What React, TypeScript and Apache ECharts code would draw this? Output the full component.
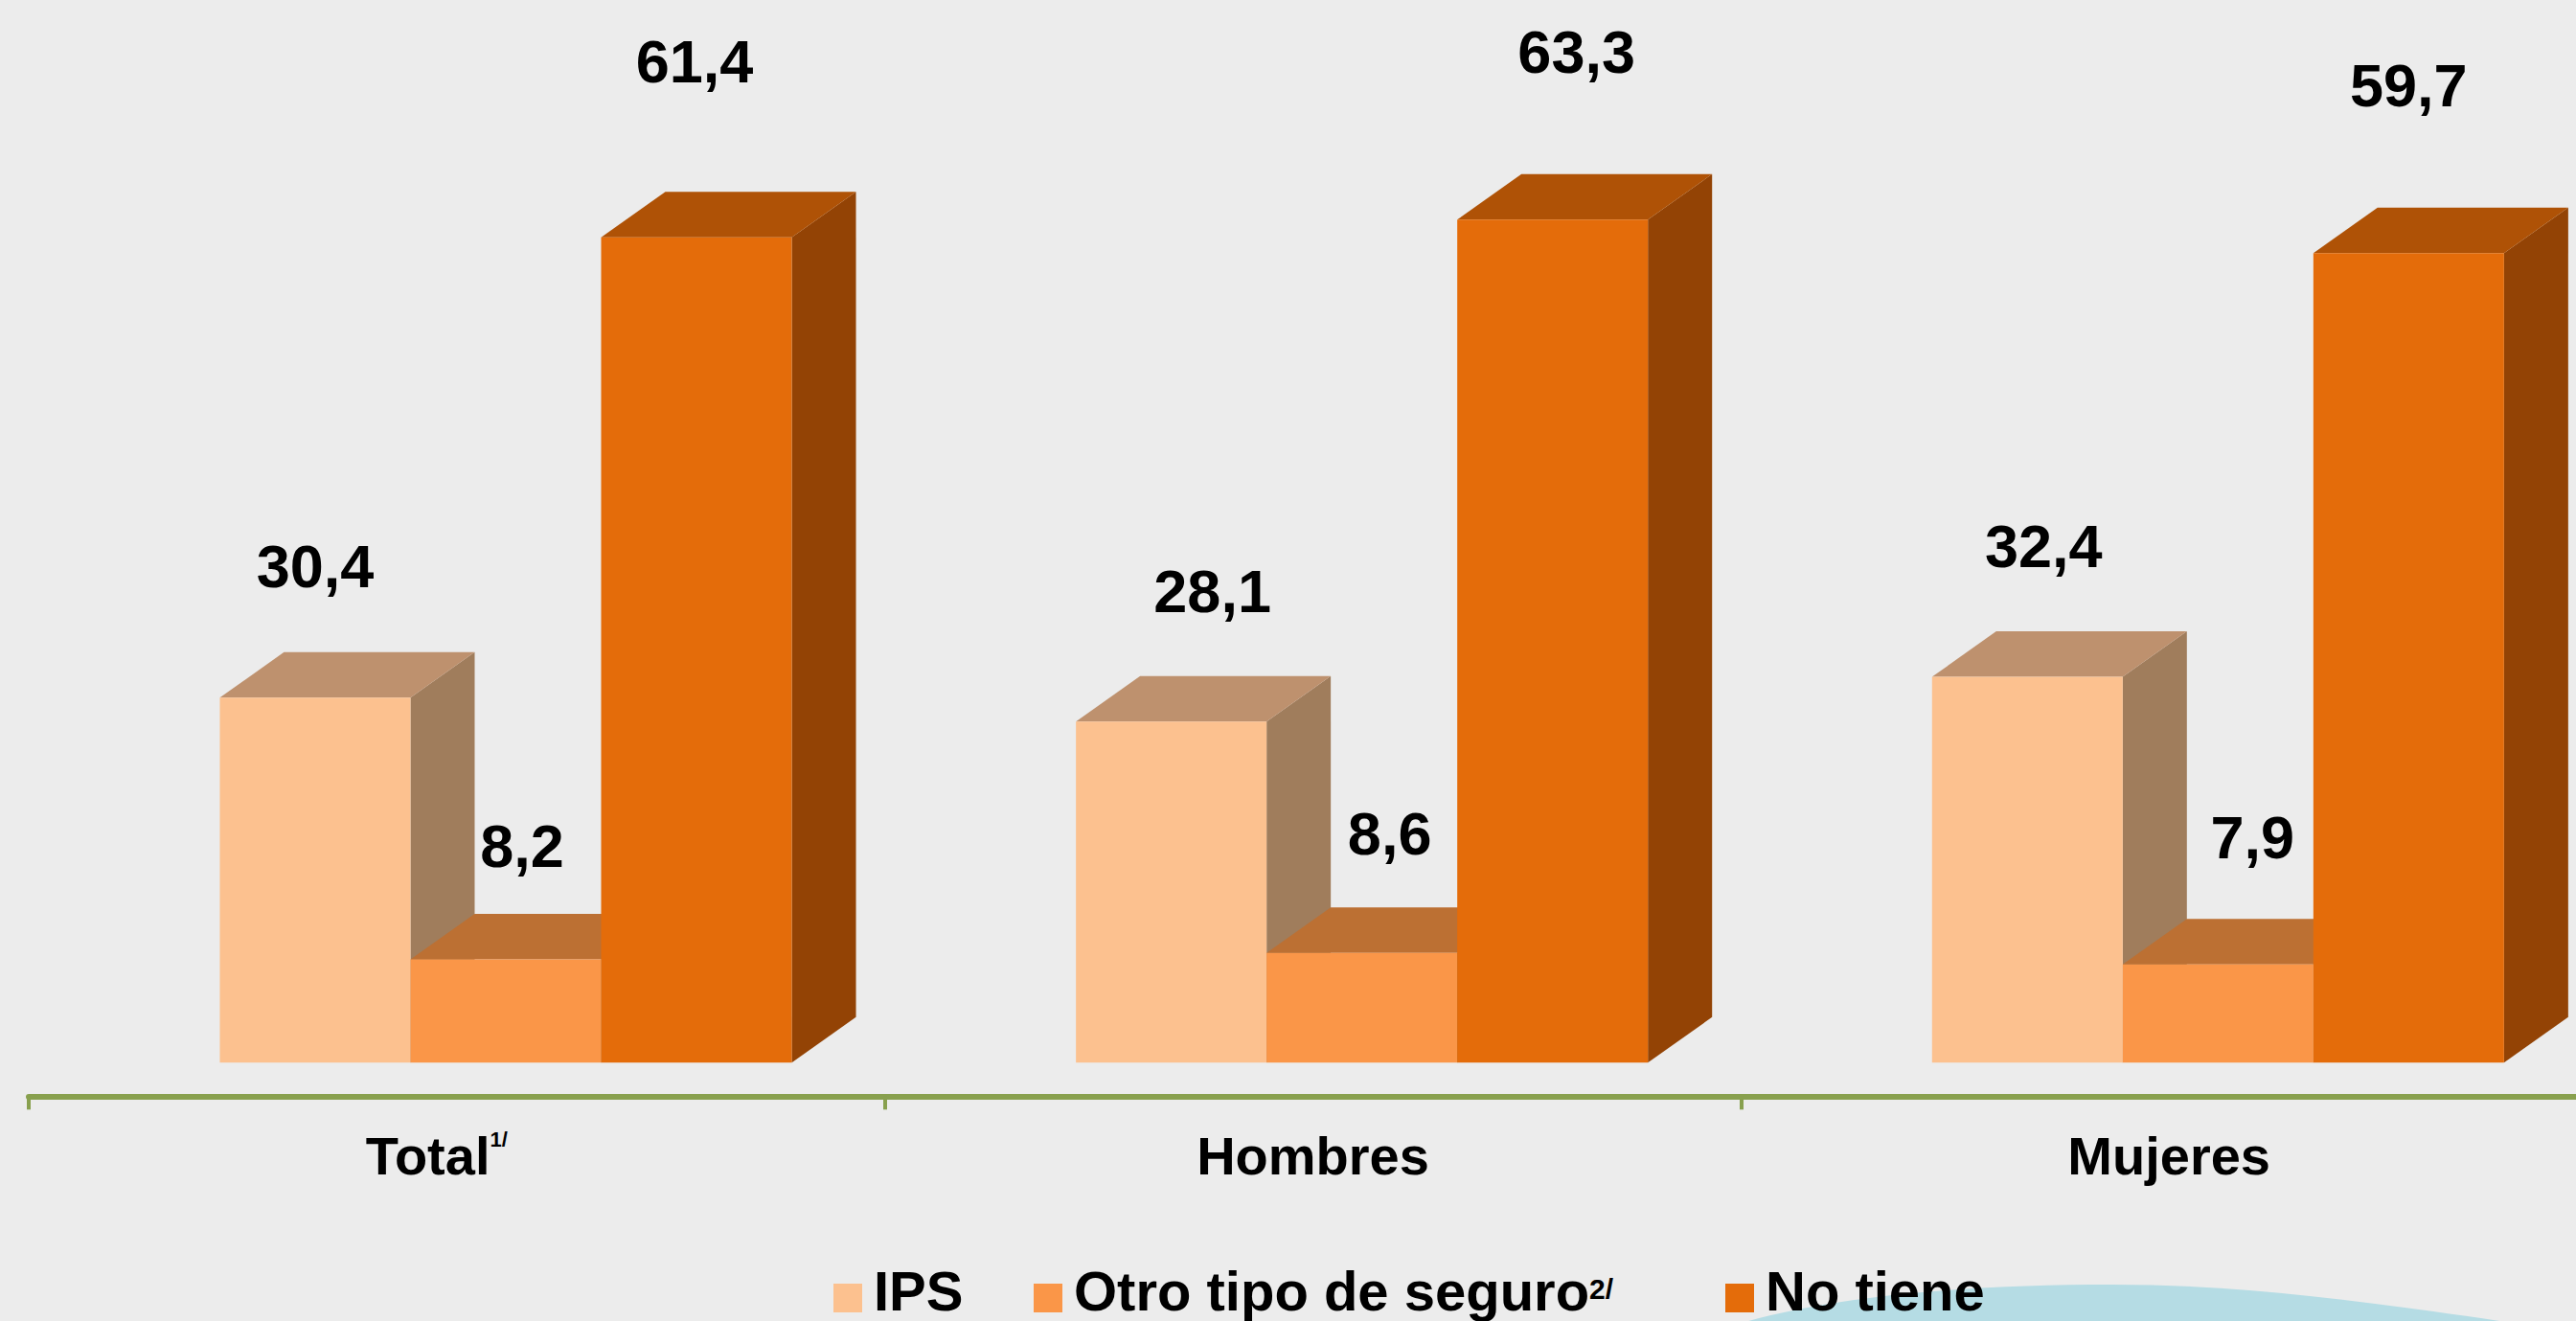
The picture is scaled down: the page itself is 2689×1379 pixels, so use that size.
import React, { useEffect, useRef } from "react";
import * as echarts from "echarts";

const categories = ["Total", "Hombres", "Mujeres"];
const ipsValues = [30.4, 28.1, 32.4];
const otroValues = [8.2, 8.6, 7.9];
const noTieneValues = [61.4, 63.3, 59.7];

const FONT = '"Liberation Sans", Arial, sans-serif';
const W = 2689;
const H = 1379;

// Hand-placed value label offsets from each bar's front-top centre.
const nudgeIps = [[0, -137], [43, -136], [17, -137]];
const nudgeOtro = [[17, -119], [29, -125], [36, -133]];
const nudgeNo = [[-2, -184], [25, -175], [0, -175]];

const faces = {
  ips: { front: "#FCC18F", top: "#BE916E", side: "#A07D5C" },
  otro: { front: "#FA9648", top: "#BC7033", side: "#9A5F2F" },
  no: { front: "#E46C0A", top: "#AF5206", side: "#934305" },
};

echarts.graphic.registerShape(
  "wave",
  echarts.graphic.extendPath(
    "M1805 1385 C1900 1355 2040 1341 2205 1341 C2350 1341 2480 1360 2650 1385 Z",
    {}
  )
);

const DEPTH_X = 67;
const DEPTH_Y = 47.5;

function makeRender(slot: number, c: any, nudges: number[][], axisMin: number) {
  return (_p: any, api: any) => {
    const cat = api.value(0);
    const val = api.value(1);
    const band = api.size([1, 0])[0];
    const [cx, top] = api.coord([cat, val]);
    const base = api.coord([cat, axisMin])[1];
    const bw = band * 0.2227;
    const x0 = cx - band * 0.2768 + slot * bw;
    const x1 = x0 + bw;
    const n = nudges[cat];
    return {
      type: "group",
      children: [
        {
          type: "polygon",
          shape: { points: [[x1, top], [x1 + DEPTH_X, top - DEPTH_Y], [x1 + DEPTH_X, base - DEPTH_Y], [x1, base]] },
          style: { fill: c.side },
        },
        {
          type: "polygon",
          shape: { points: [[x0, top], [x0 + DEPTH_X, top - DEPTH_Y], [x1 + DEPTH_X, top - DEPTH_Y], [x1, top]] },
          style: { fill: c.top },
        },
        { type: "rect", shape: { x: x0, y: top, width: bw, height: base - top }, style: { fill: c.front } },
        {
          type: "text",
          z2: 100,
          style: {
            x: (x0 + x1) / 2 + n[0],
            y: top + n[1],
            text: val.toFixed(1).replace(".", ","),
            fill: "#000",
            fontFamily: FONT,
            fontWeight: "bold",
            fontSize: 63,
            align: "center",
            verticalAlign: "middle",
          },
        },
      ],
    };
  };
}

const axes = [
  { min: -4.7, max: 97.5 },
  { min: 1.9, max: 66.8 },
  { min: -27.42, max: 86.94 },
];

const textBold = { fontFamily: FONT, fontWeight: "bold", color: "#000" };

const legendBase = {
  orient: "horizontal",
  top: 1318,
  padding: 0,
  itemWidth: 30,
  itemHeight: 30,
  itemGap: 0,
  icon: "rect",
  selectedMode: false,
  z: 20,
  textStyle: {
    ...textBold,
    fontSize: 58,
    rich: {
      a: { ...textBold, fontSize: 58, lineHeight: 50, padding: [0, 0, 16, 7] },
      s: { ...textBold, fontSize: 30, lineHeight: 50, verticalAlign: "top" },
    },
  },
};

export default function App() {
  const ref = useRef<HTMLDivElement>(null);
  useEffect(() => {
    const chart = echarts.init(ref.current!, null, { renderer: "svg" });
    const mk = (name: string, slot: number, values: number[], c: any, n: number[][]) => ({
      name,
      type: "custom",
      yAxisIndex: slot,
      itemStyle: { color: c.front },
      renderItem: makeRender(slot, c, n, axes[slot].min),
      encode: { x: 0, y: 1 },
      data: values.map((v, i) => [i, v]),
      z: 2 + slot,
    });
    chart.setOption({
      animation: false,
      backgroundColor: "#ECECEC",
      grid: { left: 30, top: 0, width: 2681, height: 1109.3, outerBoundsMode: "none", containLabel: false },
      xAxis: {
        type: "category",
        data: categories,
        offset: 35,
        boundaryGap: true,
        axisLine: { show: true, onZero: false, lineStyle: { color: "#88A04E", width: 6 } },
        axisTick: { show: true, length: 14, lineStyle: { color: "#88A04E", width: 4 } },
        axisLabel: {
          margin: 34,
          interval: 0,
          formatter: (v: string) => (v === "Total" ? "{a|Total}{s|1/}" : `{a|${v}}`),
          rich: {
            a: { ...textBold, fontSize: 56, lineHeight: 56 },
            s: { ...textBold, fontSize: 22, lineHeight: 56, verticalAlign: "top", padding: [0, 42, 0, 0] },
          },
        },
      },
      yAxis: axes.map((a) => ({ type: "value", min: a.min, max: a.max, show: false, splitLine: { show: false } })),
      legend: [
        { ...legendBase, left: 870, data: ["IPS"], formatter: (n: string) => `{a|${n}}` },
        { ...legendBase, left: 1079, data: ["Otro tipo de seguro"], formatter: (n: string) => `{a|${n}}{s|2/}` },
        { ...legendBase, left: 1801, data: ["No tiene"], formatter: (n: string) => `{a|${n}}` },
      ],
      graphic: [
        { type: "wave", x: 0, y: 0, z: -1, silent: true, style: { fill: "#B5DCE4" } },
      ],
      series: [
        mk("IPS", 0, ipsValues, faces.ips, nudgeIps),
        mk("Otro tipo de seguro", 1, otroValues, faces.otro, nudgeOtro),
        mk("No tiene", 2, noTieneValues, faces.no, nudgeNo),
      ],
    });
    return () => chart.dispose();
  }, []);
  return <div ref={ref} style={{ position: "absolute", left: 0, top: 0, width: W, height: H }} />;
}
